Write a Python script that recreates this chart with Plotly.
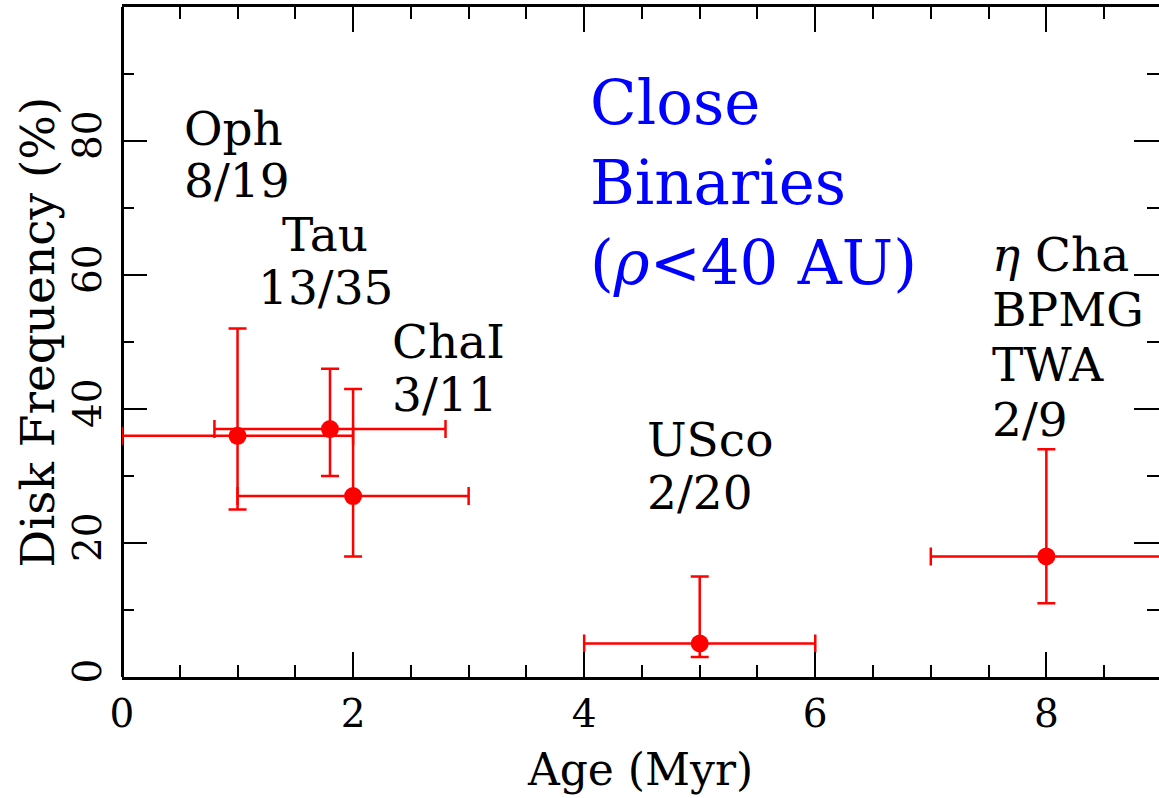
import plotly.graph_objects as go

# ---- data ----
regions = ["Oph", "Tau", "ChaI", "USco", "<i>η</i> Cha"]
age = [1.0, 1.8, 2.0, 5.0, 8.0]
age_err = [1.0, 1.0, 1.0, 1.0, 1.0]
disk_freq = [36, 37, 27, 5, 18]
freq_err_plus = [16, 9, 16, 10, 16]
freq_err_minus = [11, 7, 9, 2, 7]
counts = ["8/19", "13/35", "3/11", "2/20", "2/9"]
extra_lines = {4: ["BPMG", "TWA"]}
x_ticks = [0, 2, 4, 6, 8]
y_ticks = [0, 20, 40, 60, 80]
title_lines = ["Close", "Binaries", "(<i>ρ</i><40 AU)"]
x_title = "Age (Myr)"
y_title = "Disk Frequency (%)"

FONT = "DejaVu Serif"

fig = go.Figure()
fig.add_trace(go.Scatter(
    x=age, y=disk_freq, mode="markers",
    marker=dict(color="#ff0000", size=18),
    error_x=dict(type="data", array=age_err, arrayminus=age_err,
                 color="#ff0000", thickness=2.5, width=9),
    error_y=dict(type="data", array=freq_err_plus, arrayminus=freq_err_minus,
                 color="#ff0000", thickness=2.5, width=9),
    showlegend=False,
))

# label layout (positions in data units): (x, y of first line, anchor, line step)
label_pos = [
    (0.52, 81.9, "left", 7.8),
    (1.76, 66.1, "center", 7.9),
    (2.32, 50.1, "left", 7.9),
    (4.53, 35.4, "left", 7.9),
    (7.515, 63.0, "left", 8.2),
]
annotations = []
for i, (lx, ly, anc, step) in enumerate(label_pos):
    lines = [regions[i]] + extra_lines.get(i, []) + [counts[i]]
    for k, t in enumerate(lines):
        annotations.append(dict(
            x=lx, y=ly - k * step, xref="x", yref="y", text=t,
            showarrow=False, xanchor=anc, yanchor="middle",
            font=dict(family=FONT, size=47, color="black"),
        ))
for k, t in enumerate(title_lines):
    annotations.append(dict(
        x=4.035, y=85.7 - k * 11.9, xref="x", yref="y", text=t,
        showarrow=False, xanchor="left", yanchor="middle",
        font=dict(family=FONT, size=61, color="#0000ff"),
    ))
# y-axis title as rotated annotation
annotations.append(dict(
    x=-0.0815, y=0.515, xref="paper", yref="paper", text=y_title,
    showarrow=False, xanchor="center", yanchor="middle", textangle=-90,
    font=dict(family=FONT, size=47, color="black"),
))

fig.update_layout(
    width=1159, height=798,
    margin=dict(l=122, r=0, t=7, b=121),
    paper_bgcolor="white", plot_bgcolor="white",
    annotations=annotations,
    font=dict(family=FONT, color="black"),
)
fig.update_xaxes(
    range=[0, 8.975], tickvals=x_ticks, ticktext=[str(v) for v in x_ticks],
    showgrid=False, zeroline=True, zerolinecolor="black", zerolinewidth=3,
    showline=True, linecolor="black", linewidth=3, mirror="ticks",
    ticks="inside", ticklen=25, tickwidth=2, tickcolor="black",
    minor=dict(dtick=0.5, ticks="inside", ticklen=12, tickwidth=2, tickcolor="black", showgrid=False),
    tickfont=dict(family=FONT, size=39, color="black"),
    title=dict(text=x_title, font=dict(family=FONT, size=44, color="black"), standoff=20),
)
fig.update_yaxes(
    range=[0, 100], tickvals=y_ticks, ticktext=[str(v) for v in y_ticks],
    showgrid=False, zeroline=False,
    showline=False, mirror="ticks",
    ticks="inside", ticklen=25, tickwidth=2, tickcolor="black",
    minor=dict(dtick=10, ticks="inside", ticklen=12, tickwidth=2, tickcolor="black", showgrid=False),
    tickangle=-90, ticklabelstandoff=12,
    tickfont=dict(family=FONT, size=39, color="black"),
)

fig.write_html("out.html", config={"displayModeBar": False},
               post_script="document.body.style.margin='0px';")
